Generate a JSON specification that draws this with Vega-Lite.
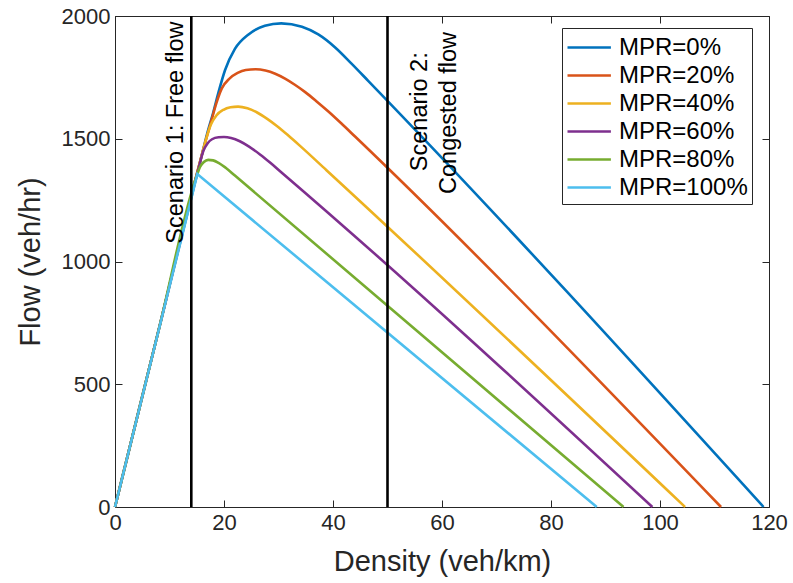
{
  "$schema": "https://vega.github.io/schema/vega-lite/v6.json",
  "width": 654,
  "height": 491,
  "autosize": "none",
  "padding": {"left": 115, "top": 16, "right": 24, "bottom": 76},
  "background": "white",
  "config": {
    "font": "Liberation Sans",
    "view": {"stroke": "#262626", "strokeWidth": 1},
    "axis": {
      "grid": false,
      "domainColor": "#262626",
      "tickColor": "#262626",
      "labelColor": "#262626",
      "titleColor": "#262626",
      "labelFontSize": 22,
      "titleFontSize": 29,
      "titleFontWeight": "normal",
      "tickSize": -7,
      "labelPadding": 12,
      "labelFlush": false
    }
  },
  "datasets": {
    "curves": [
      {"mpr": "MPR=0%", "density": 0, "flow": 0},
      {"mpr": "MPR=0%", "density": 8, "flow": 720},
      {"mpr": "MPR=0%", "density": 16, "flow": 1440},
      {"mpr": "MPR=0%", "density": 17, "flow": 1528},
      {"mpr": "MPR=0%", "density": 18, "flow": 1605},
      {"mpr": "MPR=0%", "density": 19, "flow": 1690},
      {"mpr": "MPR=0%", "density": 20.2, "flow": 1780},
      {"mpr": "MPR=0%", "density": 22, "flow": 1866},
      {"mpr": "MPR=0%", "density": 24.5, "flow": 1925},
      {"mpr": "MPR=0%", "density": 27.5, "flow": 1960},
      {"mpr": "MPR=0%", "density": 30.5, "flow": 1970},
      {"mpr": "MPR=0%", "density": 34.3, "flow": 1956},
      {"mpr": "MPR=0%", "density": 37.3, "flow": 1925},
      {"mpr": "MPR=0%", "density": 40.4, "flow": 1872},
      {"mpr": "MPR=0%", "density": 43.4, "flow": 1806},
      {"mpr": "MPR=0%", "density": 46.5, "flow": 1735},
      {"mpr": "MPR=0%", "density": 119, "flow": 0},

      {"mpr": "MPR=20%", "density": 0, "flow": 0},
      {"mpr": "MPR=20%", "density": 8, "flow": 720},
      {"mpr": "MPR=20%", "density": 16, "flow": 1440},
      {"mpr": "MPR=20%", "density": 16.8, "flow": 1505},
      {"mpr": "MPR=20%", "density": 17.7, "flow": 1575},
      {"mpr": "MPR=20%", "density": 18.6, "flow": 1645},
      {"mpr": "MPR=20%", "density": 19.6, "flow": 1705},
      {"mpr": "MPR=20%", "density": 21, "flow": 1745},
      {"mpr": "MPR=20%", "density": 22.5, "flow": 1768},
      {"mpr": "MPR=20%", "density": 24, "flow": 1780},
      {"mpr": "MPR=20%", "density": 25.8, "flow": 1783},
      {"mpr": "MPR=20%", "density": 27.6, "flow": 1778},
      {"mpr": "MPR=20%", "density": 29.4, "flow": 1765},
      {"mpr": "MPR=20%", "density": 31.2, "flow": 1745},
      {"mpr": "MPR=20%", "density": 33, "flow": 1720},
      {"mpr": "MPR=20%", "density": 34.9, "flow": 1690},
      {"mpr": "MPR=20%", "density": 37, "flow": 1652},
      {"mpr": "MPR=20%", "density": 39.1, "flow": 1612},
      {"mpr": "MPR=20%", "density": 41.5, "flow": 1563},
      {"mpr": "MPR=20%", "density": 44, "flow": 1510},
      {"mpr": "MPR=20%", "density": 111.2, "flow": 0},

      {"mpr": "MPR=40%", "density": 0, "flow": 0},
      {"mpr": "MPR=40%", "density": 8, "flow": 720},
      {"mpr": "MPR=40%", "density": 16, "flow": 1440},
      {"mpr": "MPR=40%", "density": 16.8, "flow": 1505},
      {"mpr": "MPR=40%", "density": 17.6, "flow": 1558},
      {"mpr": "MPR=40%", "density": 18.6, "flow": 1595},
      {"mpr": "MPR=40%", "density": 19.9, "flow": 1618},
      {"mpr": "MPR=40%", "density": 21.2, "flow": 1628},
      {"mpr": "MPR=40%", "density": 22.6, "flow": 1631},
      {"mpr": "MPR=40%", "density": 24.3, "flow": 1624},
      {"mpr": "MPR=40%", "density": 26, "flow": 1608},
      {"mpr": "MPR=40%", "density": 28, "flow": 1580},
      {"mpr": "MPR=40%", "density": 29.7, "flow": 1552},
      {"mpr": "MPR=40%", "density": 31.8, "flow": 1513},
      {"mpr": "MPR=40%", "density": 33.9, "flow": 1472},
      {"mpr": "MPR=40%", "density": 38.8, "flow": 1372},
      {"mpr": "MPR=40%", "density": 104.6, "flow": 0},

      {"mpr": "MPR=60%", "density": 0, "flow": 0},
      {"mpr": "MPR=60%", "density": 8, "flow": 720},
      {"mpr": "MPR=60%", "density": 15.4, "flow": 1386},
      {"mpr": "MPR=60%", "density": 16.2, "flow": 1450},
      {"mpr": "MPR=60%", "density": 17, "flow": 1482},
      {"mpr": "MPR=60%", "density": 17.8, "flow": 1498},
      {"mpr": "MPR=60%", "density": 19, "flow": 1506},
      {"mpr": "MPR=60%", "density": 20, "flow": 1507},
      {"mpr": "MPR=60%", "density": 21.3, "flow": 1503},
      {"mpr": "MPR=60%", "density": 22.9, "flow": 1490},
      {"mpr": "MPR=60%", "density": 24.6, "flow": 1468},
      {"mpr": "MPR=60%", "density": 26.6, "flow": 1436},
      {"mpr": "MPR=60%", "density": 28.5, "flow": 1402},
      {"mpr": "MPR=60%", "density": 30.5, "flow": 1364},
      {"mpr": "MPR=60%", "density": 98.6, "flow": 0},

      {"mpr": "MPR=80%", "density": 0, "flow": 0},
      {"mpr": "MPR=80%", "density": 8, "flow": 720},
      {"mpr": "MPR=80%", "density": 15, "flow": 1350},
      {"mpr": "MPR=80%", "density": 15.6, "flow": 1385},
      {"mpr": "MPR=80%", "density": 16.3, "flow": 1405},
      {"mpr": "MPR=80%", "density": 17.1, "flow": 1414},
      {"mpr": "MPR=80%", "density": 18, "flow": 1412},
      {"mpr": "MPR=80%", "density": 19, "flow": 1402},
      {"mpr": "MPR=80%", "density": 20.3, "flow": 1382},
      {"mpr": "MPR=80%", "density": 22, "flow": 1350},
      {"mpr": "MPR=80%", "density": 93.3, "flow": 0},

      {"mpr": "MPR=100%", "density": 0, "flow": 0},
      {"mpr": "MPR=100%", "density": 15.1, "flow": 1356},
      {"mpr": "MPR=100%", "density": 88.4, "flow": 0}
    ],
    "vlines": [
      {"density": 14},
      {"density": 50}
    ],
    "notes": [
      {"density": 11.2, "flow": 1525, "label": "Scenario 1: Free flow"},
      {"density": 56, "flow": 1610, "label": "Scenario 2:"},
      {"density": 61.2, "flow": 1605, "label": "Congested flow"}
    ]
  },
  "resolve": {"axis": {"x": "independent", "y": "independent"}},
  "layer": [
    {
      "data": {"name": "curves"},
      "transform": [{"filter": "datum.mpr != 'MPR=100%'"}],
      "mark": {"type": "line", "strokeWidth": 2.6, "interpolate": "monotone"},
      "encoding": {
        "x": {
          "field": "density", "type": "quantitative",
          "scale": {"domain": [0, 120], "nice": false},
          "axis": {"title": "Density (veh/km)", "values": [0, 20, 40, 60, 80, 100, 120], "titlePadding": 14}
        },
        "y": {
          "field": "flow", "type": "quantitative",
          "scale": {"domain": [0, 2000], "nice": false},
          "axis": {"title": "Flow (veh/hr)", "values": [0, 500, 1000, 1500, 2000], "format": "d", "titlePadding": 16}
        },
        "color": {
          "field": "mpr", "type": "nominal",
          "scale": {
            "domain": ["MPR=0%", "MPR=20%", "MPR=40%", "MPR=60%", "MPR=80%", "MPR=100%"],
            "range": ["#0072BD", "#D95319", "#EDB120", "#7E2F8E", "#77AC30", "#4DBEEE"]
          },
          "legend": {
            "title": null,
            "orient": "none",
            "legendX": 447,
            "legendY": 12,
            "symbolType": "M-1,0H2.1",
            "symbolSize": 784,
            "symbolStrokeWidth": 2.6,
            "labelFontSize": 24,
            "labelColor": "#000000",
            "labelOffset": 22,
            "labelLimit": 300,
            "labelExpr": "datum.label + '\u00a0\u00a0\u00a0'",
            "rowPadding": 0,
            "padding": 4,
            "strokeColor": "#262626",
            "fillColor": "white"
          }
        }
      }
    },
    {
      "data": {"name": "curves"},
      "transform": [{"filter": "datum.mpr == 'MPR=100%'"}],
      "mark": {"type": "line", "strokeWidth": 2.6},
      "encoding": {
        "x": {"field": "density", "type": "quantitative", "axis": {"orient": "top", "labels": false, "title": null, "values": [0, 20, 40, 60, 80, 100, 120], "domain": false}},
        "y": {"field": "flow", "type": "quantitative", "axis": {"orient": "right", "labels": false, "title": null, "values": [0, 500, 1000, 1500, 2000], "domain": false}},
        "color": {"field": "mpr", "type": "nominal"}
      }
    },
    {
      "data": {"name": "vlines"},
      "mark": {"type": "rule", "color": "#000000", "strokeWidth": 2.6},
      "encoding": {
        "x": {"field": "density", "type": "quantitative", "axis": null}
      }
    },
    {
      "data": {"name": "notes"},
      "mark": {"type": "text", "angle": 270, "align": "center", "baseline": "middle", "fontSize": 23.5, "color": "#000000"},
      "encoding": {
        "x": {"field": "density", "type": "quantitative", "axis": null},
        "y": {"field": "flow", "type": "quantitative", "axis": null},
        "text": {"field": "label"}
      }
    }
  ]
}
